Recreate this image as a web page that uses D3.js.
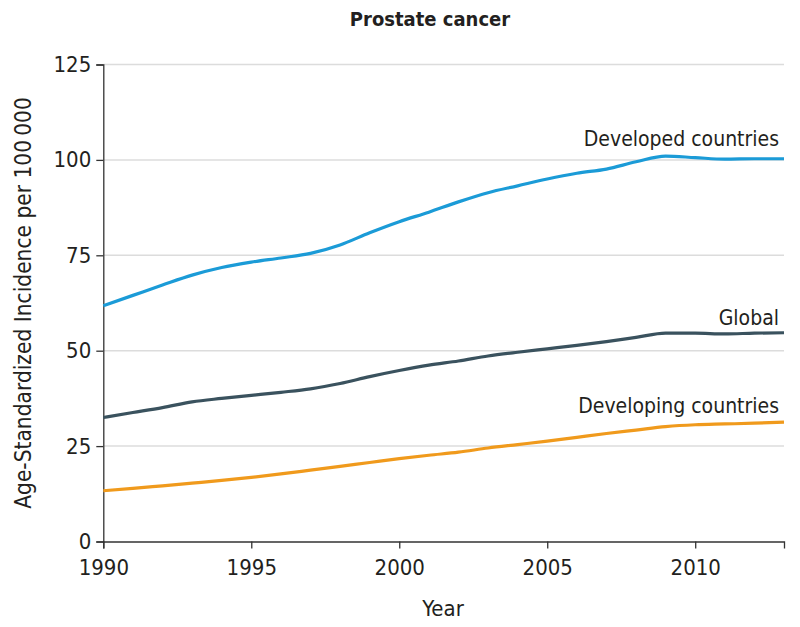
<!DOCTYPE html>
<html><head><meta charset="utf-8">
<script src="https://cdn.jsdelivr.net/npm/d3@7"></script>
<style>
body{margin:0;background:#fff;}
text{font-family:"DejaVu Sans Condensed","Liberation Sans Narrow","Roboto",sans-serif;fill:#231f20;}
</style></head><body>
<svg id="c" width="800" height="627"></svg>
<script>
const years = d3.range(1990, 2014);
const developed = [61.8,64.5,67.2,69.8,71.8,73.2,74.3,75.5,77.7,80.9,83.8,86.3,89.0,91.4,93.2,95.0,96.5,97.6,99.5,101.0,100.6,100.2,100.3,100.3];
const global = [32.5,33.8,35.1,36.6,37.5,38.3,39.1,40.0,41.4,43.2,44.8,46.2,47.3,48.6,49.6,50.5,51.4,52.4,53.5,54.6,54.6,54.4,54.6,54.7];
const developing = [13.3,13.9,14.6,15.3,16.0,16.8,17.7,18.7,19.7,20.7,21.7,22.6,23.4,24.5,25.4,26.3,27.3,28.3,29.2,30.1,30.6,30.8,31.0,31.3];
const yTicks = [0,25,50,75,100,125];
const xTicks = [1990,1995,2000,2005,2010];
const seriesNames = ["Developed countries","Global","Developing countries"];
const seriesColors = ["#1b9bd7","#3a525e","#f09a1c"];
const seriesValues = [developed, global, developing];

const svg = d3.select("#c");
const m = {l:103.3, r:784, t:64.5, b:541.5};
const x = d3.scaleLinear().domain([1990,2013]).range([m.l, m.r]);
const y = d3.scaleLinear().domain([0,125]).range([m.b, m.t]);

// grid
svg.append("g").selectAll("line").data(yTicks.filter(d=>d>0)).join("line")
  .attr("x1", m.l).attr("x2", m.r).attr("y1", d=>y(d)).attr("y2", d=>y(d))
  .attr("stroke","#dcdcdc").attr("stroke-width",1.5);

// axes
const yAxis = svg.append("g").attr("transform",`translate(${m.l},0)`)
  .call(d3.axisLeft(y).tickValues(yTicks).tickSize(7).tickPadding(5));
const xAxis = svg.append("g").attr("transform",`translate(0,${m.b})`)
  .call(d3.axisBottom(x).tickValues(xTicks).tickFormat(d3.format("d")).tickSize(7).tickPadding(11));
[yAxis,xAxis].forEach(a=>{
  a.select(".domain").attr("stroke","#333").attr("stroke-width",1.3);
  a.selectAll(".tick line").attr("stroke","#333").attr("stroke-width",1.3);
  a.selectAll(".tick text").style("font-size","22px").attr("fill","#231f20");
});
yAxis.selectAll(".tick text").attr("dy","0.32em");

// lines
const line = d3.line().x((d,i)=>x(years[i])).y(d=>y(d)).curve(d3.curveMonotoneX);
seriesValues.forEach((vals,k)=>{
  svg.append("path").datum(vals).attr("d", line)
    .attr("fill","none").attr("stroke", seriesColors[k]).attr("stroke-width",3.2)
    .attr("stroke-linejoin","round");
});

// labels
const labelY = [146, 325, 413];
seriesNames.forEach((n,k)=>{
  svg.append("text").attr("x", 779).attr("y", labelY[k]).attr("text-anchor","end")
    .style("font-size","21px").text(n);
});

// title
svg.append("text").attr("x", 430).attr("y", 26).attr("text-anchor","middle")
  .style("font-size","20px").style("font-weight","bold").text("Prostate cancer");

// axis titles
svg.append("text").attr("x", 443).attr("y", 616).attr("text-anchor","middle")
  .style("font-size","22px").text("Year");
svg.append("text").attr("transform","translate(31,303) rotate(-90)").attr("text-anchor","middle")
  .style("font-size","22.5px").text("Age-Standardized Incidence per 100\u2009000");
</script></body></html>
